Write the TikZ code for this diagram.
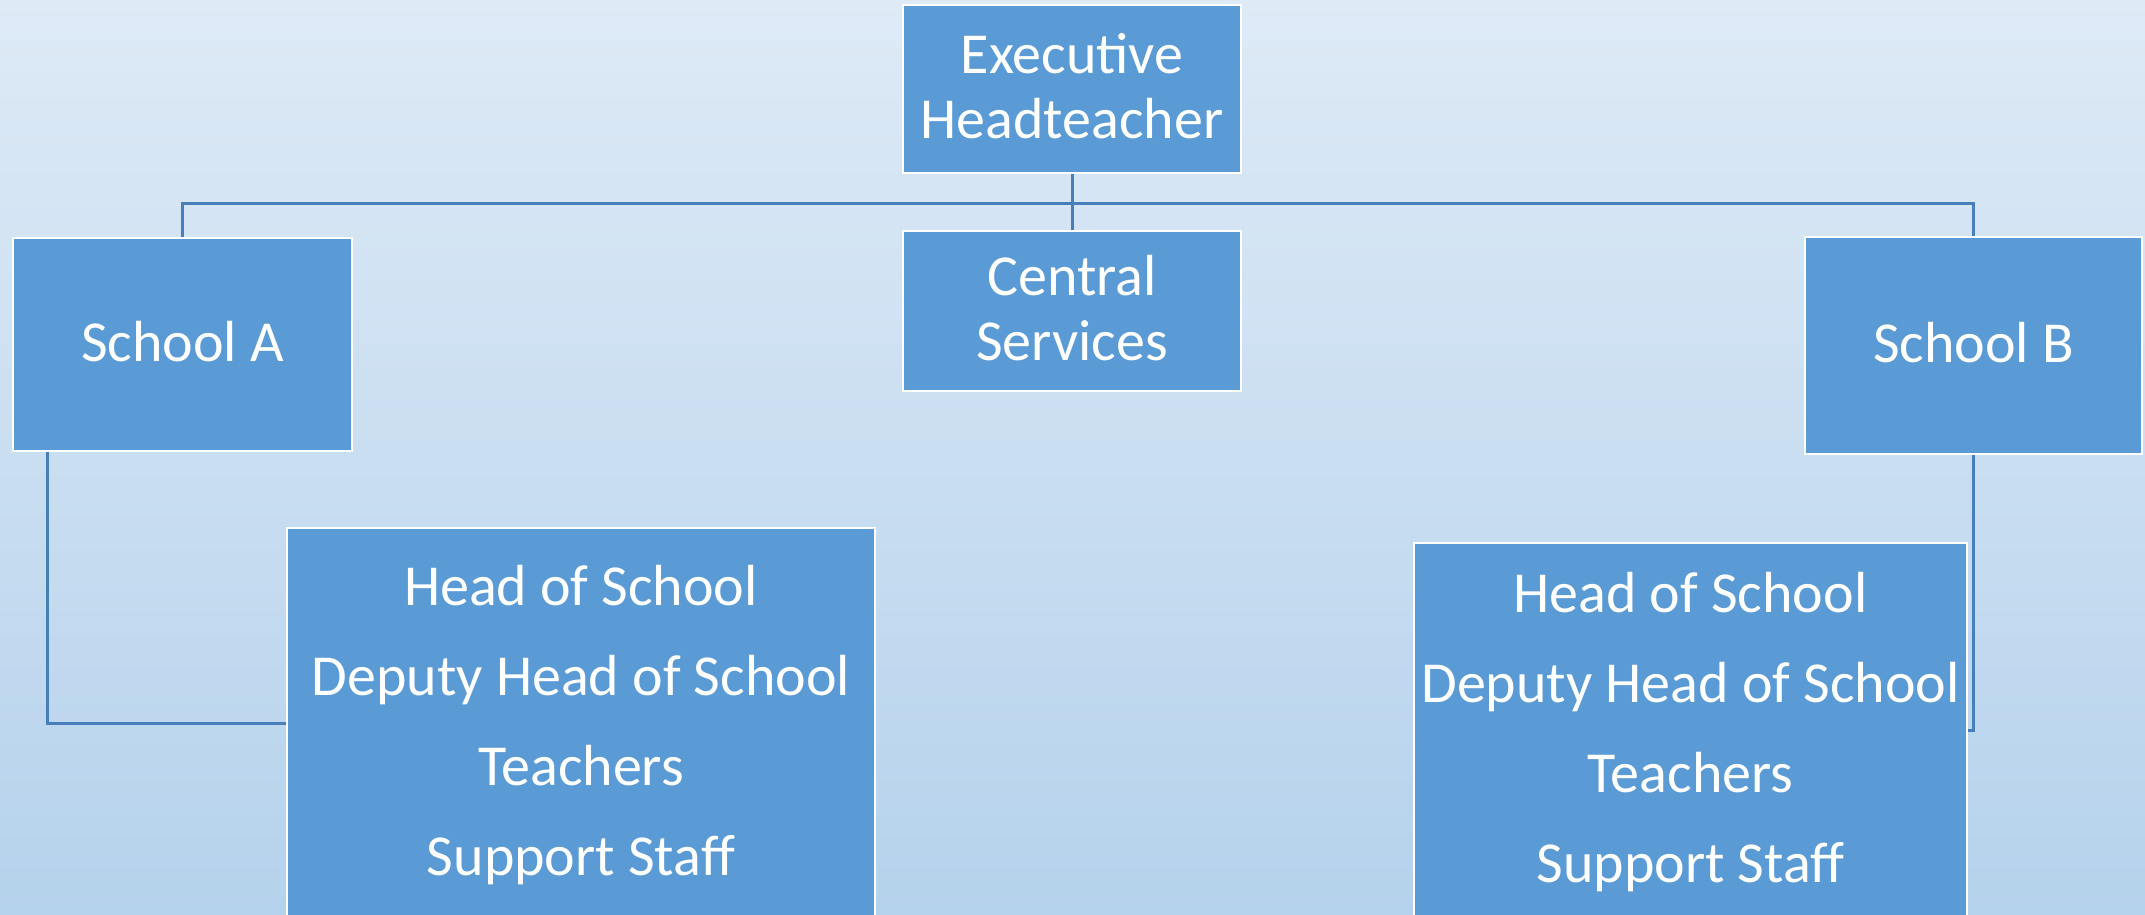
\documentclass[tikz,border=0pt]{standalone}
\usepackage{fontspec}
\setmainfont{Carlito}
\definecolor{bgtop}{RGB}{222,234,246}
\definecolor{bgbot}{RGB}{181,210,236}
\definecolor{boxblue}{RGB}{91,155,213}
\definecolor{linkblue}{RGB}{72,126,186}
\pgfdeclarelayer{back}
\pgfdeclarelayer{links}
\pgfsetlayers{back,links,main}
\begin{document}
\begin{tikzpicture}[x=1pt,y=-1pt,
  box/.style={draw=white, line width=2.5pt, fill=boxblue, text=white,
    align=center, inner sep=0pt, text depth=6pt, font=\fontsize{58}{65}\selectfont},
  listbox/.style={box, text depth=6pt, font=\fontsize{58}{90}\selectfont},
  link/.style={draw=linkblue, line width=3pt}]
\useasboundingbox (0,0) rectangle (2145,914);
\begin{pgfonlayer}{back}
  \shade[top color=bgtop, bottom color=bgbot] (0,0) rectangle (2145,914);
\end{pgfonlayer}

% boxes
\node[box, minimum width=338pt, minimum height=168pt] (exec) at (1072,89) {Executive\\Headteacher};
\node[box, minimum width=338pt, minimum height=160pt] (central) at (1072,311) {Central\\Services};
\node[box, minimum width=339pt, minimum height=213pt] (sa) at (182.5,344.5) {School A};
\node[box, minimum width=337pt, minimum height=217pt] (sb) at (1973.5,345.5) {School B};
\node[listbox, minimum width=588pt, minimum height=390pt] (da) at (581,723)
  {Head of School\\Deputy Head of School\\Teachers\\Support Staff};
\node[listbox, minimum width=553pt, minimum height=374pt] (db) at (1690.5,730)
  {Head of School\\Deputy Head of School\\Teachers\\Support Staff};

% connectors
\coordinate (bus) at (1072,203);
\coordinate (ja) at (47,723);
\coordinate (jb) at (1973,730);
\begin{pgfonlayer}{links}
  \draw[link] (exec.south) -- (central.north);
  \draw[link] (sa.north) |- (bus) -| (sb.north);
  \draw[link] (sa.south -| ja) -- (ja) -- (ja -| da.west);
  \draw[link] (sb.south -| jb) -- (jb) -- (jb -| db.east);
\end{pgfonlayer}
\end{tikzpicture}
\end{document}
